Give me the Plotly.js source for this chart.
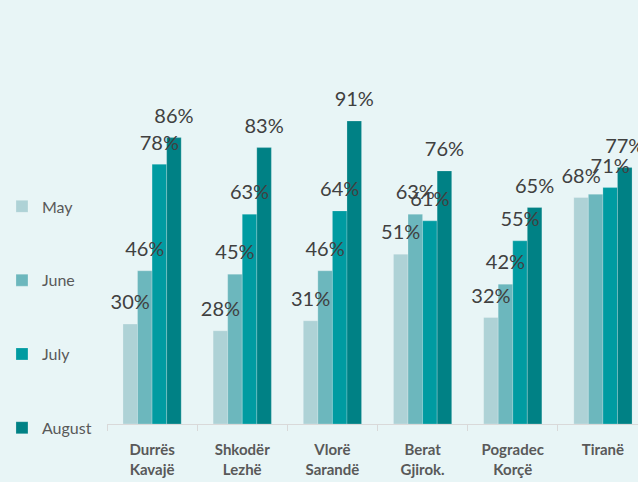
<!DOCTYPE html>
<html>
<head>
<meta charset="utf-8">
<script src="https://cdn.plot.ly/plotly-3.0.1.min.js"></script>
<style>
html, body { margin:0; padding:0; background:#E8F5F6; overflow:hidden; width:638px; height:482px; }
#chart { width:660px; height:482px; }
</style>
</head>
<body>
<div id="chart"></div>
<script>
var regions = ["Durrës<br>Kavajë", "Shkodër<br>Lezhë", "Vlorë<br>Sarandë", "Berat<br>Gjirok.", "Pogradec<br>Korçë", "Tiranë"];
var seriesNames = ["May", "June", "July", "August"];
var mayValues    = [30, 28, 31, 51, 32, 68];
var juneValues   = [46, 45, 46, 63, 42, 69];
var julyValues   = [78, 63, 64, 61, 55, 71];
var augustValues = [86, 83, 91, 76, 65, 77];
// labels shown per series (the reference shows no label on Tiranë / June)
var showLabel = [
  [1, 1, 1, 1, 1, 1],
  [1, 1, 1, 1, 1, 0],
  [1, 1, 1, 1, 1, 1],
  [1, 1, 1, 1, 1, 1]
];
var seriesColors = ["#AED2D6", "#6CB7BD", "#009BA1", "#008185"];

var allValues = [mayValues, juneValues, julyValues, augustValues];
var traces = allValues.map(function(vals, i) {
  return {
    type: "bar",
    name: seriesNames[i],
    legendgroup: "g" + i,
    x: regions,
    y: vals,
    marker: {color: seriesColors[i], line: {color: "rgba(255,255,255,0.35)", width: 0.6}},
    hoverinfo: "skip"
  };
});
allValues.forEach(function(vals, i) {
  traces.push({
    type: "scatter",
    mode: "markers+text",
    showlegend: false,
    legendgroup: "g" + i,
    x: regions,
    y: vals,
    text: vals.map(function(v, j){ return showLabel[i][j] ? v + "%" : ""; }),
    textposition: "top center",
    cliponaxis: false,
    marker: {size: 14, opacity: 0},
    textfont: {family: "Lato, 'Open Sans', sans-serif", size: 20, color: "#404040"},
    hoverinfo: "skip"
  });
});

var layout = {
  width: 660,
  height: 482,
  paper_bgcolor: "#E8F5F6",
  plot_bgcolor: "#E8F5F6",
  margin: {l: 107, r: 12, t: 91, b: 58, pad: 0, autoexpand: false},
  barmode: "group",
  bargap: 0.354,
  bargroupgap: 0,
  scattermode: "group",
  scattergap: 0.354,
  showlegend: true,
  legend: {
    xref: "container", yref: "container",
    x: 0.003, xanchor: "left",
    y: 0.607, yanchor: "top",
    orientation: "v",
    traceorder: "grouped",
    tracegroupgap: 50,
    maxheight: 400,
    font: {family: "Lato, 'Open Sans', sans-serif", size: 16, color: "#595959"},
    bgcolor: "rgba(0,0,0,0)",
    itemwidth: 30
  },
  xaxis: {
    type: "category",
    automargin: false,
    range: [-0.5, 5.5],
    tickson: "boundaries",
    ticks: "outside",
    ticklen: 6,
    tickcolor: "#D9D9D9",
    ticklabelstandoff: 12,
    showline: true,
    linecolor: "#D9D9D9",
    linewidth: 1,
    showgrid: false,
    tickfont: {family: "Lato, 'Open Sans', sans-serif", size: 15, color: "#595959", weight: "bold"},
    fixedrange: true
  },
  yaxis: {
    automargin: false,
    range: [0, 100],
    visible: false,
    showgrid: false,
    zeroline: false,
    fixedrange: true
  }
};

Plotly.newPlot("chart", traces, layout, {displayModeBar: false, staticPlot: true});
</script>
</body>
</html>
